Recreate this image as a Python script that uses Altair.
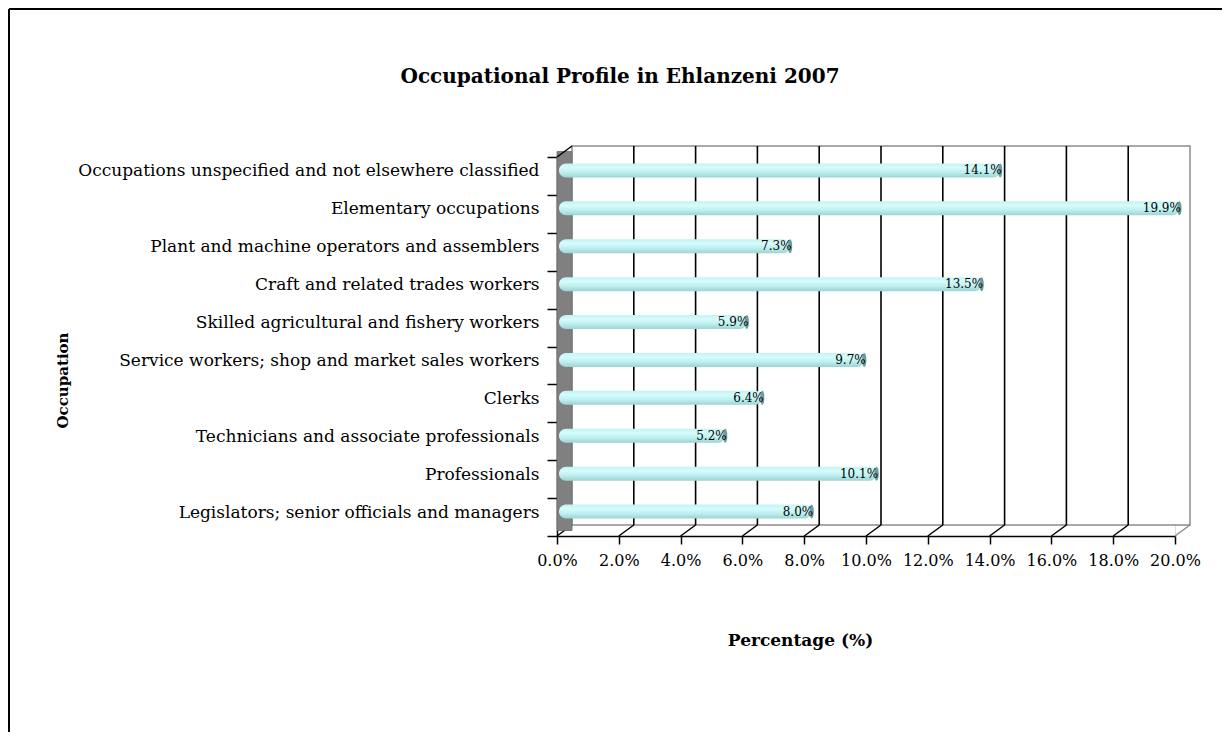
import altair as alt
import pandas as pd

# ---- data ----
occupations = [
    "Occupations unspecified and not elsewhere classified",
    "Elementary occupations",
    "Plant and machine operators and assemblers",
    "Craft and related trades workers",
    "Skilled agricultural and fishery workers",
    "Service workers; shop and market sales workers",
    "Clerks",
    "Technicians and associate professionals",
    "Professionals",
    "Legislators; senior officials and managers",
]
shares = [14.1, 19.9, 7.3, 13.5, 5.9, 9.7, 6.4, 5.2, 10.1, 8.0]
tick_values = [0, 2, 4, 6, 8, 10, 12, 14, 16, 18, 20]

# ---- layout / style ----
W, H = 618, 379          # front plane of the plot
DX, DY = 15, -11         # 3-D depth offset
SERIF = "DejaVu Serif"

df = pd.DataFrame({
    "occ": occupations,
    "pct": [v / 100 for v in shares],
    "zero": [0.0] * len(shares),
    "label": [f"{v:.1f}%" for v in shares],
})
ticks_df = pd.DataFrame({"t": [t / 100 for t in tick_values]})
inner_ticks = ticks_df[(ticks_df.t > 0) & (ticks_df.t < 0.2)]
one = alt.Data(values=[{"k": 1}])

xs = alt.Scale(domain=[0, 0.2], nice=False, zero=True)
ys = alt.Scale(domain=occupations, paddingInner=0, paddingOuter=0)

xa = alt.Axis(
    values=[t / 100 for t in tick_values], format=".1%", grid=False,
    domainColor="black", domainWidth=1.5, tickColor="black", tickWidth=1.5, tickSize=8,
    labelFont=SERIF, labelFontSize=16, labelColor="black", labelPadding=8,
    labelOverlap=False, labelFlush=False,
    title="Percentage (%)", titleFont=SERIF, titleFontSize=17, titleFontWeight="bold",
    titleColor="black", titleX=243, titleY=104, titleAlign="center", titleBaseline="middle",
)
ya = alt.Axis(
    tickBand="extent", domainColor="black", domainWidth=1.5, tickColor="black",
    tickWidth=1.5, tickSize=10, labelFont=SERIF, labelFontSize=17, labelColor="black",
    labelPadding=8, labelOffset=-5, labelLimit=700, labelOverlap=False,
    title="Occupation", titleFont=SERIF, titleFontSize=15, titleFontWeight="bold",
    titleColor="black", titleX=-495, titleY=223, titleAlign="center",
    titleBaseline="middle", titleAngle=270,
)
X_T = alt.X("t:Q", scale=xs, axis=xa)
X_P = alt.X("pct:Q", scale=xs, axis=xa)
Y_O = alt.Y("occ:N", scale=ys, sort=occupations, axis=ya)

# outer frame: top and left border lines
frame_top = alt.Chart(one).mark_rule(color="black", strokeWidth=2).encode(
    x=alt.value(-548), x2=alt.value(W + 47), y=alt.value(-148)
)
frame_left = alt.Chart(one).mark_rule(color="black", strokeWidth=2).encode(
    x=alt.value(-548), y=alt.value(-148), y2=alt.value(H + 196)
)

# back wall outline
back = alt.Chart(one).mark_rect(fill="white", stroke="#8c8c8c", strokeWidth=1.5).encode(
    x=alt.value(DX), x2=alt.value(W + DX), y=alt.value(DY), y2=alt.value(H + DY)
)

# gridlines on the back wall
grid = alt.Chart(inner_ticks).mark_rule(color="black", strokeWidth=1.6, xOffset=DX).encode(
    x=X_T, y=alt.value(DY), y2=alt.value(H + DY),
)

# floor diagonals
floor = alt.Chart(ticks_df[ticks_df.t < 0.2]).mark_rule(color="black", strokeWidth=1.5, x2Offset=DX).encode(
    x=X_T, x2="t:Q", y=alt.value(H), y2=alt.value(H + DY),
)
floor_end = alt.Chart(ticks_df[ticks_df.t >= 0.2]).mark_rule(color="#8c8c8c", strokeWidth=1.5, x2Offset=DX).encode(
    x=X_T, x2="t:Q", y=alt.value(H), y2=alt.value(H + DY),
)

# left side wall
wall = alt.Chart(one).mark_rect(fill="#808080", stroke="#6a6a6a", strokeWidth=0.8).encode(
    x=alt.value(0), x2=alt.value(DX), y=alt.value(-5.5), y2=alt.value(H - 5.5)
)
wall_top = alt.Chart(one).mark_rule(color="black", strokeWidth=1.5).encode(
    x=alt.value(0), x2=alt.value(DX), y=alt.value(0), y2=alt.value(DY)
)

grad = {
    "gradient": "linear", "x1": 0, "y1": 0, "x2": 0, "y2": 1,
    "stops": [
        {"offset": 0.0, "color": "#c2f3f3"},
        {"offset": 0.3, "color": "#d6fcfc"},
        {"offset": 0.65, "color": "#bdeeee"},
        {"offset": 1.0, "color": "#9cd3d3"},
    ],
}

bars = alt.Chart(df).mark_bar(
    size=14, cornerRadius=7, fill=grad, xOffset=7.5, x2Offset=2, yOffset=-5.5
).encode(x=X_P, x2="zero:Q", y=Y_O)

cap_shape = "M0,-1 A0.3,1 0 1,1 0,1 A0.3,1 0 1,1 0,-1 Z"
caps = alt.Chart(df).mark_point(
    shape=cap_shape, filled=True, fill="#6c9c9c", opacity=1, size=196,
    xOffset=7.5, yOffset=-5.5, strokeWidth=0,
).encode(x=X_P, y=Y_O)

labels = alt.Chart(df).mark_text(
    align="right", baseline="middle", font=SERIF, fontSize=12, color="black",
    xOffset=9, yOffset=-5.5,
).encode(x=X_P, y=Y_O, text="label:N")

chart = alt.layer(
    frame_top, frame_left, back, grid, floor, floor_end, wall, wall_top, bars, caps, labels
).properties(
    width=W, height=H,
    title=alt.TitleParams(
        "Occupational Profile in Ehlanzeni 2007", font=SERIF, fontSize=20, fontWeight="bold",
        color="black", anchor="middle", frame="group", dx=-246, offset=-99, baseline="bottom",
    ),
    padding=0,
).configure_view(stroke=None).configure(background="white")

chart.save("out.html", embed_options={"renderer": "svg", "actions": False})
